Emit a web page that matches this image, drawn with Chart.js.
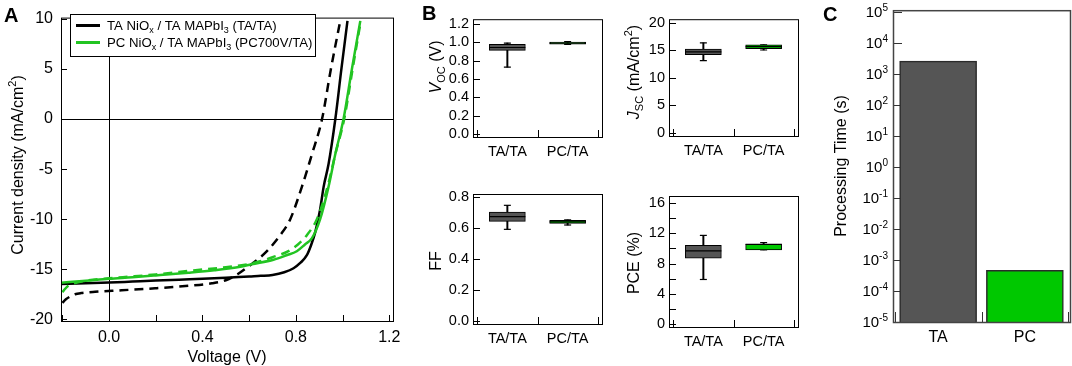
<!DOCTYPE html>
<html>
<head>
<meta charset="utf-8">
<script src="https://cdn.jsdelivr.net/npm/chart.js@4.4.1/dist/chart.umd.min.js"></script>
<style>
html,body{margin:0;padding:0;background:#fff;width:1072px;height:366px;overflow:hidden}
canvas{position:absolute;left:0;top:0}
</style>
</head>
<body>
<canvas id="cA" width="1072" height="366"></canvas>
<canvas id="cVoc" width="1072" height="366"></canvas>
<canvas id="cJsc" width="1072" height="366"></canvas>
<canvas id="cFF" width="1072" height="366"></canvas>
<canvas id="cPCE" width="1072" height="366"></canvas>
<canvas id="cC" width="1072" height="366"></canvas>
<script>
// ---------- DATA ----------
// Panel A: J-V curves (voltage in V, current density in mA/cm2)
const taScan1V = [-0.206,-0.1,0,0.1,0.2,0.3,0.4,0.5,0.6,0.65,0.7,0.75,0.79,0.82,0.847,0.865,0.883,0.904,0.919,0.94,0.969,0.995,1.021];
const taScan1J = [-16.48,-16.41,-16.33,-16.23,-16.13,-16.04,-15.96,-15.86,-15.72,-15.66,-15.57,-15.3,-14.9,-14.35,-13.6,-12.6,-11.3,-9.0,-6.75,-4.5,0,5,9.8];
const taScan2V = [-0.2,-0.185,-0.165,-0.146,-0.12,-0.06,0.054,0.197,0.34,0.44,0.5,0.55,0.604,0.64,0.676,0.733,0.776,0.826,0.869,0.912,0.95,0.99];
const taScan2J = [-18.35,-18.0,-17.7,-17.5,-17.38,-17.25,-17.1,-16.9,-16.65,-16.4,-16.1,-15.5,-14.6,-13.95,-13.2,-11.6,-10.0,-6.75,-3.5,0,5,9.8];
const pcScan1V = [-0.206,-0.1,0,0.1,0.2,0.34,0.45,0.562,0.61,0.704,0.76,0.804,0.84,0.869,0.904,0.94,0.969,1.004,1.04,1.076];
const pcScan1J = [-16.35,-16.15,-15.95,-15.8,-15.62,-15.35,-15.1,-14.75,-14.5,-14.05,-13.6,-13.2,-12.5,-11.9,-10.0,-6.75,-3.5,0,5,9.8];
const pcScan2V = [-0.2,-0.19,-0.175,-0.15,-0.1,0,0.1,0.2,0.37,0.5,0.583,0.647,0.7,0.768,0.81,0.847,0.89,0.936,0.969,1.007,1.043,1.078];
const pcScan2J = [-17.3,-17.0,-16.65,-16.4,-16.15,-15.9,-15.72,-15.52,-15.1,-14.8,-14.55,-14.2,-13.8,-13.2,-12.5,-11.6,-10.0,-6.75,-3.5,0,5,9.8];
const voltTicks = [-0.2,0,0.2,0.4,0.6,0.8,1.0,1.2];
const voltLabels = ['','0.0','','0.4','','0.8','','1.2'];
const currTicks = [-20,-15,-10,-5,0,5,10];
const currLabels = ['-20','-15','-10','-5','0','5','10'];
const legendA = ['TA/TA','PC700V/TA'];

// Panel B: box statistics [min, q1, median, q3, max]
const catsB = ['TA/TA','PC/TA'];
const vocTA = [0.727,0.91,0.942,0.975,0.99];
const vocPC = [0.975,0.978,0.99,1.0,1.005];
const jscTA = [13.1,14.2,14.7,15.2,16.35];
const jscPC = [15.05,15.3,15.65,15.97,16.0];
const ffTA = [0.589,0.64,0.671,0.70,0.744];
const ffPC = [0.617,0.628,0.637,0.647,0.65];
const pceTA = [5.9,8.7,9.65,10.4,11.7];
const pcePC = [9.8,9.8,10.5,10.6,10.75];
const vocTicks = [0,0.2,0.4,0.6,0.8,1.0,1.2];
const jscTicks = [0,5,10,15,20];
const ffTicks = [0,0.2,0.4,0.6,0.8];
const pceTicks = [0,4,8,12,16];
const pceMinor = [2,6,10,14];

// Panel C: processing time (s)
const catsC = ['TA','PC'];
const timeValues = [2600, 4.6e-4];
const timeExps = [-5,-4,-3,-2,-1,0,1,2,3,4,5];

// ---------- STYLE ----------
const FONT = "'Liberation Sans', Arial, Helvetica, sans-serif";
const GREEN = '#22c422';
const BARGREEN = '#00c800';
const DARK = '#555555';
Chart.defaults.font.family = FONT;
Chart.defaults.color = '#000';

function richText(ctx, segs, x, y, rot, size, align) {
  ctx.save();
  ctx.translate(x, y);
  if (rot) ctx.rotate(rot);
  const small = Math.round(size * 0.68);
  const fontOf = s => (s.italic ? 'italic ' : '') + (s.bold ? 'bold ' : '') + ((s.sub || s.sup) ? small : size) + 'px ' + FONT;
  let total = 0;
  const widths = segs.map(s => { ctx.font = fontOf(s); const w = ctx.measureText(s.t).width; total += w; return w; });
  let cx = align === 'right' ? -total : (align === 'left' ? 0 : -total / 2);
  ctx.textAlign = 'left';
  ctx.textBaseline = 'alphabetic';
  ctx.fillStyle = '#000';
  segs.forEach((s, i) => {
    ctx.font = fontOf(s);
    const dy = s.sub ? size * 0.28 : (s.sup ? -size * 0.42 : 0);
    ctx.fillText(s.t, cx, size * 0.36 + dy);
    cx += widths[i];
  });
  ctx.restore();
}

const deco = {
  id: 'deco',
  beforeDatasetsDraw(chart, args, o) {
    const ctx = chart.ctx, a = chart.chartArea;
    ctx.save();
    ctx.strokeStyle = o.tickColor || '#000';
    ctx.lineWidth = o.tickWidth || 1;
    const ys = chart.scales.y, xs = chart.scales.x;
    (o.yTicks || []).forEach(v => {
      const p = Math.round(ys.getPixelForValue(v)) + 0.5;
      ctx.beginPath(); ctx.moveTo(a.left, p); ctx.lineTo(a.left + o.yLen, p); ctx.stroke();
    });
    (o.xTicks || []).forEach(v => {
      const p = Math.round(xs.getPixelForValue(v)) + 0.5;
      ctx.beginPath(); ctx.moveTo(p, a.bottom); ctx.lineTo(p, a.bottom - o.xLen); ctx.stroke();
    });
    ctx.restore();
  },
  afterDraw(chart, args, o) {
    const ctx = chart.ctx, a = chart.chartArea;
    ctx.save();
    ctx.strokeStyle = o.frameColor || '#000';
    ctx.lineWidth = o.frameWidth || 1;
    ctx.strokeRect(a.left + 0.5, a.top + 0.5, a.right - a.left, a.bottom - a.top);
    ctx.restore();
    (o.texts || []).forEach(t => richText(ctx, t.segs, t.x, t.y, t.rot || 0, t.size, t.align));
    if (o.extra) o.extra(chart);
  }
};
Chart.register(deco);

// area: chart-area edges (l,t,r,b) plus reserved label strip sizes (yw, xh)
function baseOptions(area) {
  return {
    responsive: false, animation: false, events: [], devicePixelRatio: 1,
    layout: { padding: { left: area.l - area.yw, top: area.t, right: 1072 - area.r, bottom: 366 - area.b - area.xh } },
    plugins: { legend: { display: false }, tooltip: { enabled: false } }
  };
}
const noGrid = { display: false, drawTicks: false };
const xy = (xs, ys) => xs.map((x, i) => ({ x: x, y: ys[i] }));
const ROT = -Math.PI / 2;

// ---------- PANEL A ----------
(function () {
  const area = { l: 61, t: 10, r: 393, b: 321, yw: 58, xh: 30 };
  const opts = baseOptions(area);
  const zeroLine = c => (c.tick && c.tick.value === 0) ? '#000' : 'rgba(0,0,0,0)';
  opts.scales = {
    x: {
      type: 'linear', min: -0.206, max: 1.216,
      afterBuildTicks: s => { s.ticks = voltTicks.map(v => ({ value: v })); },
      afterFit: s => { s.height = area.xh; },
      ticks: { autoSkip: false, maxRotation: 0, padding: 7, font: { size: 16 }, callback: (v, i) => voltLabels[i] },
      grid: { drawTicks: false, color: zeroLine, lineWidth: 1 },
      border: { display: false }
    },
    y: {
      type: 'linear', min: -20.17, max: 10.13,
      afterBuildTicks: s => { s.ticks = currTicks.map(v => ({ value: v })); },
      afterFit: s => { s.width = area.yw; },
      ticks: { autoSkip: false, padding: 8, font: { size: 16 }, callback: (v, i) => currLabels[i] },
      grid: { drawTicks: false, color: zeroLine, lineWidth: 1 },
      border: { display: false }
    }
  };
  opts.plugins.deco = {
    yTicks: currTicks, yLen: 6, xTicks: voltTicks, xLen: 6,
    texts: [
      { segs: [{ t: 'A', bold: true }], x: 4, y: 15, size: 20, align: 'left' },
      { segs: [{ t: 'Current density (mA/cm' }, { t: '2', sup: true }, { t: ')' }], x: 17, y: 165, rot: ROT, size: 16 },
      { segs: [{ t: 'Voltage (V)' }], x: 227, y: 356, size: 16 }
    ],
    extra: chart => {
      const ctx = chart.ctx;
      ctx.save();
      ctx.fillStyle = '#fff';
      ctx.fillRect(70.5, 14.5, 245, 42);
      ctx.strokeStyle = '#000'; ctx.lineWidth = 1;
      ctx.strokeRect(70.5, 14.5, 245, 42);
      const cols = ['#000', GREEN];
      const ys = [25.5, 42.5];
      const segsList = [
        [{ t: 'TA NiO' }, { t: 'x', sub: true }, { t: ' / TA MAPbI' }, { t: '3', sub: true }, { t: ' (' + legendA[0] + ')' }],
        [{ t: 'PC NiO' }, { t: 'x', sub: true }, { t: ' / TA MAPbI' }, { t: '3', sub: true }, { t: ' (' + legendA[1] + ')' }]
      ];
      for (let i = 0; i < 2; i++) {
        ctx.strokeStyle = cols[i]; ctx.lineWidth = 3;
        ctx.beginPath(); ctx.moveTo(76, ys[i]); ctx.lineTo(100, ys[i]); ctx.stroke();
        richText(ctx, segsList[i], 107, ys[i] - 0.5, 0, 13.2, 'left');
      }
      ctx.restore();
    }
  };
  const line = (data, color, dash, order) => ({
    data: data, borderColor: color, borderWidth: 2.5, borderDash: dash, showLine: true,
    pointRadius: 0, cubicInterpolationMode: 'monotone', borderCapStyle: 'butt', order: order
  });
  new Chart(document.getElementById('cA'), {
    type: 'scatter',
    data: { datasets: [
      line(xy(taScan1V, taScan1J), '#000', [], 4),
      line(xy(taScan2V, taScan2J), '#000', [9, 6], 3),
      line(xy(pcScan1V, pcScan1J), GREEN, [], 2),
      line(xy(pcScan2V, pcScan2J), GREEN, [9, 6], 1)
    ] },
    options: opts
  });
})();

// ---------- PANEL B ----------
function boxPanel(id, area, ta, pc, yMin, yMax, yTicks, fmt, yMinor, texts) {
  const stats = [ta, pc];
  const opts = baseOptions(area);
  opts.scales = {
    x: {
      type: 'linear', min: -0.57, max: 1.57, offset: false,
      afterBuildTicks: s => { s.ticks = catsB.map((c, i) => ({ value: i })); },
      afterFit: s => { s.height = area.xh; },
      ticks: { autoSkip: false, maxRotation: 0, padding: 6, font: { size: 14.5 }, callback: (v, i) => catsB[i] },
      grid: { display: false, drawTicks: false, offset: false },
      border: { display: false }
    },
    y: {
      type: 'linear', min: yMin, max: yMax,
      afterBuildTicks: s => { s.ticks = yTicks.map(v => ({ value: v })); },
      afterFit: s => { s.width = area.yw; },
      ticks: { autoSkip: false, padding: 4, font: { size: 14.5 }, callback: (v, i) => fmt(yTicks[i]) },
      grid: noGrid,
      border: { display: false }
    }
  };
  opts.plugins.deco = {
    yTicks: yTicks.concat(yMinor), yLen: 7, xTicks: [-0.5, 0.5, 1.5], xLen: 7, texts: texts
  };
  new Chart(document.getElementById(id), {
    type: 'bar',
    data: { datasets: [
      { type: 'scatter', data: stats.map((s, i) => ({ x: i, y: s[2] })), pointStyle: 'line', pointRadius: 18,
        pointBorderColor: '#000', pointBorderWidth: 1.2, order: 0 },
      { type: 'bar', data: stats.map((s, i) => ({ x: i, y: [s[1], s[3]] })), backgroundColor: [DARK, BARGREEN],
        borderColor: '#000', borderWidth: 1, borderSkipped: false, barThickness: 36, grouped: false, order: 1 },
      { type: 'scatter', data: stats.flatMap((s, i) => [{ x: i, y: s[0] }, { x: i, y: s[4] }]), pointStyle: 'line',
        pointRadius: 3.5, pointBorderColor: '#000', pointBorderWidth: 1.2, order: 2 },
      { type: 'bar', data: stats.map((s, i) => ({ x: i, y: [s[0], s[4]] })), backgroundColor: '#000',
        borderWidth: 0, barThickness: 1.3, grouped: false, order: 3 }
    ] },
    options: opts
  });
}
const f1 = v => v.toFixed(1);
const f0 = v => String(v);
boxPanel('cVoc', { l: 473, t: 7, r: 602, b: 137, yw: 30, xh: 28 }, vocTA, vocPC, -0.033, 1.25, vocTicks, f1, [], [
  { segs: [{ t: 'B', bold: true }], x: 422, y: 13, size: 20, align: 'left' },
  { segs: [{ t: 'V', italic: true }, { t: 'OC', sub: true }, { t: ' (V)' }], x: 435, y: 67, rot: ROT, size: 16 }
]);
boxPanel('cJsc', { l: 669, t: 6, r: 798, b: 136, yw: 30, xh: 28 }, jscTA, jscPC, -0.6, 20.65, jscTicks, f0, [], [
  { segs: [{ t: 'J', italic: true }, { t: 'SC', sub: true }, { t: ' (mA/cm' }, { t: '2', sup: true }, { t: ')' }], x: 633, y: 72, rot: ROT, size: 16 }
]);
boxPanel('cFF', { l: 473, t: 194, r: 602, b: 324, yw: 30, xh: 28 }, ffTA, ffPC, -0.0215, 0.817, ffTicks, f1, [], [
  { segs: [{ t: 'FF' }], x: 435, y: 261, rot: ROT, size: 16 }
]);
boxPanel('cPCE', { l: 669, t: 196, r: 798, b: 327, yw: 30, xh: 28 }, pceTA, pcePC, -0.35, 16.88, pceTicks, f0, pceMinor, [
  { segs: [{ t: 'PCE (%)' }], x: 633, y: 263, rot: ROT, size: 16 }
]);

// ---------- PANEL C ----------
(function () {
  const area = { l: 893, t: 10, r: 1070, b: 322, yw: 0, xh: 30 };
  const opts = baseOptions(area);
  opts.scales = {
    x: {
      type: 'linear', min: -0.52, max: 1.52, offset: false,
      afterBuildTicks: s => { s.ticks = catsC.map((c, i) => ({ value: i })); },
      afterFit: s => { s.height = area.xh; },
      ticks: { autoSkip: false, maxRotation: 0, padding: 6, font: { size: 16 }, callback: (v, i) => catsC[i] },
      grid: { display: false, drawTicks: false, offset: false },
      border: { display: false }
    },
    y: {
      type: 'logarithmic', min: 1e-5, max: 1.135e5,
      afterBuildTicks: s => { s.ticks = timeExps.map(e => ({ value: Math.pow(10, e) })); },
      afterFit: s => { s.width = area.yw; },
      ticks: { autoSkip: false, callback: () => '' },
      grid: noGrid,
      border: { display: false }
    }
  };
  opts.plugins.deco = {
    yTicks: timeExps.map(e => Math.pow(10, e)), yLen: 9, xTicks: [-0.5, 0.5, 1.5], xLen: 10,
    tickColor: '#333', frameColor: '#444', frameWidth: 1.5,
    texts: [
      { segs: [{ t: 'C', bold: true }], x: 823, y: 14, size: 20, align: 'left' },
      { segs: [{ t: 'Processing Time (s)' }], x: 840, y: 166, rot: ROT, size: 16 }
    ],
    extra: chart => {
      const ys = chart.scales.y, a = chart.chartArea;
      timeExps.forEach(e => {
        const p = ys.getPixelForValue(Math.pow(10, e));
        richText(chart.ctx, [{ t: '10' }, { t: String(e), sup: true }], a.left - 5, p, 0, 15, 'right');
      });
    }
  };
  new Chart(document.getElementById('cC'), {
    type: 'bar',
    data: { datasets: [{
      data: timeValues.map((v, i) => ({ x: i, y: v })),
      backgroundColor: [DARK, BARGREEN], borderColor: '#2a2a2a', borderWidth: 1.5, barThickness: 77
    }] },
    options: opts
  });
})();
</script>
</body>
</html>
